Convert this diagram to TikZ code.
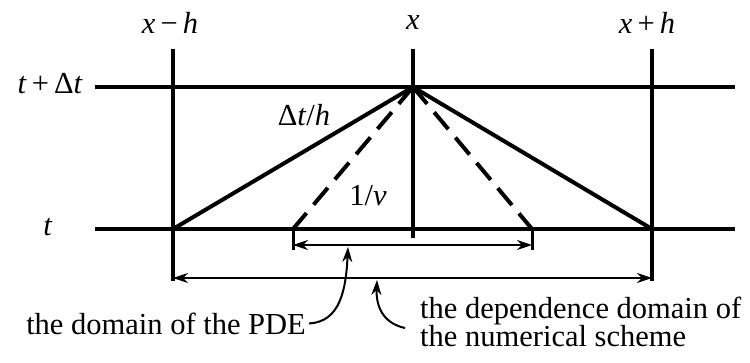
\documentclass[tikz,border=0pt]{standalone}
\usepackage{fontspec}
\setmainfont{Liberation Serif}
\usetikzlibrary{arrows.meta}

\begin{document}
\begin{tikzpicture}[x=1pt, y=-1pt, every node/.style={font=\fontsize{30.5}{28}\selectfont, inner sep=0pt},
    gridline/.style={line width=4pt},
    slope/.style={line width=4pt},
    cone/.style={line width=4pt, dash pattern=on 22pt off 11pt},
    tick/.style={line width=3pt},
    span/.style={line width=2pt, {Stealth[length=15pt,width=10pt]}-{Stealth[length=15pt,width=10pt]}},
    pointer/.style={line width=2pt, -{Stealth[length=15pt,width=10pt]}}]
    \useasboundingbox (0,0) rectangle (750,362);
    % grid points
    \coordinate (topL) at (95,87);   \coordinate (topR) at (735,87);
    \coordinate (botL) at (95,229);  \coordinate (botR) at (735,229);
    \coordinate (apex) at (413,87);
    \coordinate (left) at (173,229); \coordinate (right) at (652,229);
    \coordinate (pdeL) at (293,229); \coordinate (pdeR) at (532,229);
    \draw[gridline] (topL) -- (topR);
    \draw[gridline] (botL) -- (botR);
    \draw[gridline] (173,49) -- (173,281);
    \draw[gridline] (413,49) -- (413,238);
    \draw[gridline] (652,49) -- (652,281);
    % characteristics
    \draw[slope] (left) -- (apex) -- (right);
    \draw[cone] (apex) -- (pdeL);
    \draw[cone] (apex) -- (pdeR);
    \draw[tick] (pdeL) -- (293,250);
    \draw[tick] (pdeR) -- (532,250);
    % domains
    \coordinate (innerL) at (293,245); \coordinate (innerR) at (532,245);
    \coordinate (outerL) at (173,278); \coordinate (outerR) at (652,278);
    \draw[span] (innerL) -- (innerR);
    \draw[span] (outerL) -- (outerR);
    % labels
    \node[anchor=base] (xm) at (170,33) {\textit{x}\,−\,\textit{h}};
    \node[anchor=base] (x0) at (413,29) {\textit{x}};
    \node[anchor=base] (xp) at (647,33) {\textit{x}\,+\,\textit{h}};
    \node[anchor=base east] (tp) at (83,93) {\textit{t}\,+\,Δ\textit{t}};
    \node[anchor=base] (t0) at (48,235) {\textit{t}};
    \node[anchor=base] (ratio) at (304,125) {Δ\textit{t}/\textit{h}};
    \node[anchor=base] (speed) at (368,205) {1/\textit{ν}};
    \node[anchor=base east] (pde) at (306,334) {the domain of the PDE};
    \node[anchor=base west, align=left] (scheme) at (420,346) {the dependence domain of\\the numerical scheme};
    % pointers
    \coordinate (pdeTip) at (348,247);
    \coordinate (schemeTip) at (377,280);
    \draw[pointer] (pde.east) ++(3pt,0) .. controls (340,322) and (346,290) .. (pdeTip);
    \draw[pointer] (405,328) .. controls (382,323) and (376,305) .. (schemeTip);
\end{tikzpicture}
\end{document}
